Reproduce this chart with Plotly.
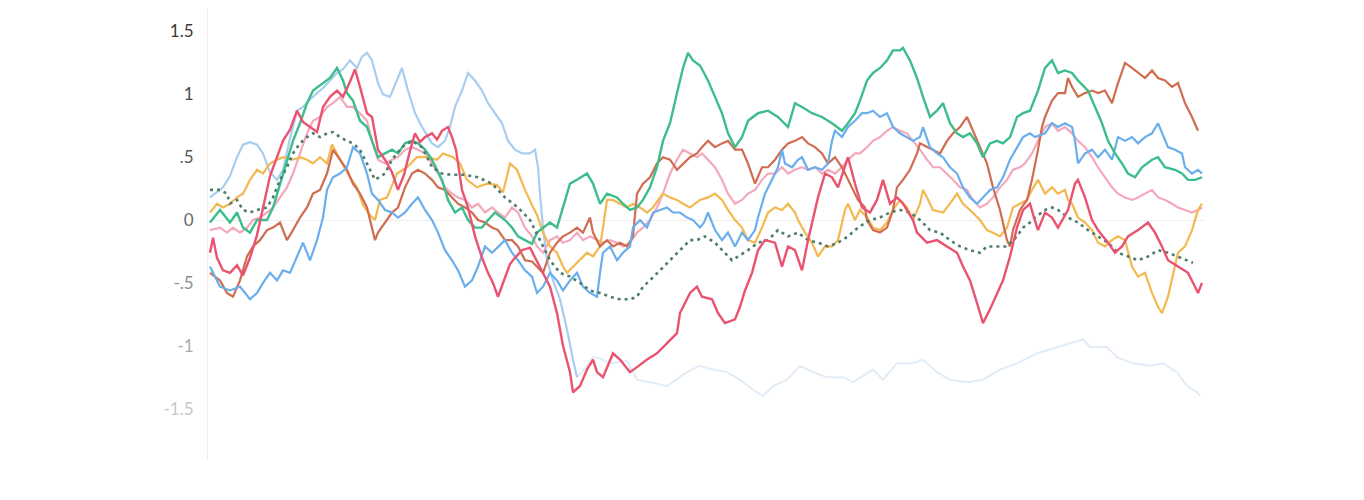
import plotly.graph_objects as go

# ---- data: (step, value) pairs ----
GREEN = [(10,-0.02),(20,0.08),(30,-0.02),(37,0.06),(43,-0.06),(50,-0.1),(57,0),(67,0),(73,0.1),(80,0.29),(87,0.48),(93,0.63),(100,0.77),(107,0.93),(113,1.03),(123,1.09),(130,1.13),(137,1.21),(143,1.11),(147,1.01),(153,0.95),(160,0.79),(167,0.74),(172,0.63),(178,0.5),(185,0.53),(192,0.56),(198,0.53),(205,0.61),(212,0.63),(218,0.61),(225,0.56),(232,0.48),(242,0.32),(248,0.16),(255,0.06),(262,0.1),(268,0),(275,-0.06),(282,-0.06),(288,0),(295,0.06),(305,0),(312,-0.06),(318,-0.13),(325,-0.16),(332,-0.19),(337,-0.1),(343,-0.06),(350,-0.02),(357,-0.06),(363,0.1),(370,0.29),(377,0.32),(387,0.37),(393,0.29),(400,0.13),(407,0.21),(417,0.18),(423,0.13),(430,0.08),(437,0.1),(443,0.16),(450,0.26),(457,0.42),(463,0.63),(470,0.77),(477,1.01),(483,1.21),(488,1.33),(493,1.27),(500,1.23),(508,1.11),(515,0.98),(522,0.85),(528,0.69),(535,0.58),(542,0.66),(548,0.79),(558,0.85),(568,0.87),(578,0.82),(588,0.74),(595,0.93),(602,0.9),(612,0.85),(622,0.82),(632,0.77),(642,0.71),(648,0.77),(655,0.85),(660,0.95),(667,1.11),(673,1.17),(680,1.21),(687,1.27),(693,1.35),(700,1.35),(703,1.37),(710,1.27),(717,1.13),(723,0.98),(730,0.82),(737,0.87),(743,0.93),(750,0.77),(757,0.69),(763,0.66),(770,0.69),(777,0.61),(783,0.5),(790,0.61),(797,0.63),(803,0.61),(810,0.66),(817,0.82),(823,0.85),(830,0.87),(838,1.03),(845,1.21),(852,1.27),(858,1.17),(865,1.19),(872,1.17),(878,1.11),(888,1.03),(895,0.9),(902,0.77),(908,0.63),(915,0.53),(922,0.45),(928,0.37),(935,0.34),(942,0.42),(952,0.48),(958,0.5),(965,0.42),(975,0.4),(982,0.37),(988,0.32),(995,0.32),(1002,0.34)]

RED = [(10,-0.26),(13,-0.14),(17,-0.3),(23,-0.4),(30,-0.42),(37,-0.36),(43,-0.44),(50,-0.3),(57,-0.12),(63,0.1),(70,0.35),(77,0.5),(83,0.63),(90,0.72),(97,0.87),(103,0.78),(110,0.74),(117,0.7),(123,0.9),(130,0.98),(137,1.03),(143,0.98),(150,1.1),(155,1.2),(160,1.06),(167,0.85),(172,0.82),(178,0.56),(185,0.48),(192,0.38),(198,0.24),(204,0.36),(210,0.55),(215,0.69),(220,0.62),(225,0.66),(232,0.69),(237,0.64),(242,0.71),(248,0.74),(252,0.66),(256,0.56),(262,0.24),(268,0.1),(275,-0.13),(282,-0.3),(288,-0.42),(293,-0.5),(298,-0.61),(305,-0.45),(310,-0.35),(315,-0.3),(322,-0.24),(330,-0.22),(340,-0.37),(350,-0.53),(357,-0.74),(363,-1.0),(370,-1.21),(373,-1.37),(380,-1.32),(387,-1.19),(393,-1.11),(397,-1.21),(403,-1.25),(413,-1.06),(420,-1.11),(430,-1.21),(437,-1.17),(447,-1.11),(457,-1.06),(467,-0.98),(477,-0.9),(480,-0.74),(490,-0.58),(497,-0.53),(502,-0.61),(512,-0.63),(518,-0.74),(525,-0.82),(535,-0.79),(540,-0.69),(545,-0.56),(552,-0.42),(558,-0.24),(565,-0.16),(575,-0.18),(582,-0.37),(588,-0.21),(595,-0.24),(602,-0.4),(608,-0.16),(618,0.18),(625,0.37),(632,0.34),(638,0.26),(648,0.5),(655,0.29),(662,0.1),(670,0.06),(677,0.16),(683,0.32),(690,0.13),(697,0.18),(703,0.13),(713,0),(717,-0.1),(727,-0.18),(737,-0.16),(747,-0.21),(757,-0.26),(763,-0.37),(770,-0.48),(777,-0.66),(783,-0.82),(790,-0.71),(797,-0.58),(803,-0.48),(810,-0.29),(817,-0.06),(823,0.08),(830,0.13),(834,0.02),(838,-0.08),(845,0.06),(852,0.02),(858,-0.06),(868,0.08),(875,0.29),(878,0.32),(885,0.18),(892,0),(898,-0.08),(908,-0.18),(915,-0.26),(922,-0.21),(928,-0.13),(938,-0.08),(948,-0.02),(955,-0.1),(962,-0.21),(968,-0.32),(978,-0.37),(988,-0.42),(995,-0.53),(998,-0.58),(1002,-0.5)]

BLUE = [(10,-0.37),(20,-0.53),(30,-0.56),(40,-0.53),(50,-0.63),(57,-0.58),(63,-0.5),(70,-0.42),(77,-0.48),(83,-0.4),(90,-0.42),(97,-0.29),(103,-0.18),(110,-0.32),(117,-0.16),(123,0.02),(127,0.24),(133,0.34),(140,0.37),(147,0.42),(153,0.58),(160,0.53),(167,0.37),(172,0.21),(178,0.16),(185,0.08),(192,0.06),(198,0.02),(205,0.06),(212,0.13),(218,0.18),(225,0.08),(232,0),(238,-0.1),(245,-0.24),(252,-0.32),(258,-0.4),(265,-0.53),(272,-0.48),(278,-0.37),(285,-0.21),(292,-0.26),(298,-0.21),(305,-0.16),(312,-0.26),(318,-0.32),(325,-0.4),(332,-0.45),(337,-0.58),(343,-0.53),(350,-0.42),(357,-0.48),(363,-0.56),(370,-0.48),(377,-0.42),(383,-0.53),(390,-0.58),(397,-0.61),(400,-0.42),(403,-0.26),(410,-0.21),(417,-0.32),(423,-0.26),(430,-0.21),(433,-0.06),(440,0),(447,-0.06),(453,0.06),(460,0.08),(467,0.1),(473,0.06),(480,0.06),(487,0.02),(493,0),(500,-0.06),(504,-0.02),(508,0.06),(515,-0.08),(522,-0.16),(528,-0.1),(535,-0.21),(542,-0.1),(548,-0.16),(555,-0.08),(558,0.02),(565,0.21),(572,0.32),(578,0.42),(582,0.56),(585,0.45),(592,0.42),(598,0.48),(602,0.5),(608,0.4),(615,0.42),(622,0.4),(628,0.45),(632,0.63),(635,0.71),(642,0.66),(648,0.74),(655,0.79),(662,0.85),(667,0.85),(673,0.87),(680,0.82),(687,0.85),(693,0.74),(700,0.69),(707,0.66),(713,0.63),(720,0.66),(723,0.74),(730,0.58),(737,0.53),(743,0.5),(750,0.42),(757,0.37),(763,0.26),(770,0.18),(777,0.13),(783,0.18),(790,0.24),(797,0.26),(803,0.34),(810,0.48),(817,0.58),(823,0.66),(830,0.69),(835,0.66),(845,0.69),(852,0.77),(858,0.74),(865,0.77),(872,0.74),(875,0.63),(878,0.45),(885,0.53),(892,0.56),(898,0.5),(905,0.56),(912,0.48),(918,0.66),(925,0.63),(932,0.66),(938,0.61),(945,0.66),(952,0.69),(958,0.77),(962,0.69),(968,0.58),(975,0.56),(982,0.53),(985,0.42),(992,0.37),(998,0.4),(1002,0.37)]

LIGHTBLUE = [(10,0.18),(17,0.22),(23,0.26),(30,0.35),(37,0.5),(43,0.6),(50,0.62),(57,0.6),(63,0.53),(70,0.38),(77,0.32),(83,0.4),(90,0.65),(97,0.87),(103,0.9),(110,0.96),(117,1.01),(123,1.05),(130,1.11),(137,1.17),(143,1.2),(150,1.27),(157,1.21),(162,1.3),(167,1.33),(172,1.27),(178,1.09),(183,1.0),(190,0.98),(198,1.13),(202,1.21),(208,1.03),(215,0.85),(222,0.74),(232,0.61),(238,0.58),(245,0.63),(250,0.74),(255,0.9),(262,1.03),(268,1.17),(275,1.11),(282,1.03),(288,0.93),(295,0.85),(302,0.77),(308,0.63),(315,0.56),(322,0.53),(330,0.53),(335,0.56),(338,0.42),(340,0.21),(343,-0.06),(347,-0.32),(353,-0.48),(360,-0.63),(367,-0.87),(373,-1.11),(377,-1.25)]

FAINT = [(377,-1.25),(385,-1.18),(393,-1.09),(400,-1.1),(410,-1.14),(427,-1.12),(437,-1.27),(450,-1.29),(467,-1.32),(478,-1.26),(487,-1.21),(500,-1.16),(513,-1.19),(527,-1.21),(540,-1.27),(553,-1.35),(563,-1.4),(573,-1.32),(587,-1.27),(600,-1.16),(613,-1.21),(627,-1.25),(643,-1.25),(653,-1.29),(663,-1.24),(673,-1.19),(683,-1.27),(697,-1.14),(713,-1.14),(723,-1.11),(737,-1.21),(750,-1.27),(767,-1.29),(783,-1.27),(800,-1.19),(817,-1.14),(837,-1.06),(857,-1.01),(870,-0.98),(883,-0.95),(890,-1.01),(907,-1.01),(917,-1.09),(933,-1.14),(950,-1.16),(963,-1.14),(977,-1.21),(987,-1.32),(997,-1.37),(1000,-1.4)]

YELLOW = [(10,0.06),(17,0.13),(23,0.1),(30,0.13),(37,0.18),(43,0.21),(50,0.32),(57,0.4),(63,0.37),(70,0.45),(77,0.48),(83,0.5),(93,0.48),(100,0.5),(107,0.48),(113,0.45),(120,0.5),(127,0.45),(132,0.6),(137,0.53),(143,0.45),(150,0.34),(157,0.26),(163,0.12),(170,0.04),(175,0.0),(180,0.16),(187,0.18),(197,0.37),(207,0.42),(217,0.5),(227,0.5),(237,0.48),(243,0.53),(253,0.5),(260,0.45),(267,0.32),(277,0.26),(287,0.29),(297,0.28),(303,0.22),(310,0.45),(317,0.4),(325,0.24),(332,0.12),(337,0.04),(343,-0.1),(350,-0.21),(357,-0.26),(363,-0.37),(367,-0.42),(373,-0.37),(380,-0.32),(387,-0.26),(393,-0.29),(400,-0.21),(403,-0.06),(407,0.16),(413,0.16),(420,0.13),(427,0.1),(433,0.13),(440,0.1),(447,0.06),(453,0.1),(460,0.18),(463,0.21),(470,0.18),(477,0.16),(483,0.13),(490,0.1),(500,0.16),(508,0.18),(515,0.21),(522,0.16),(528,0.08),(535,0),(542,-0.06),(548,-0.16),(555,-0.18),(562,-0.06),(568,0.06),(575,0.1),(582,0.08),(588,0.13),(595,0.06),(598,0),(605,-0.1),(612,-0.18),(618,-0.29),(625,-0.21),(632,-0.21),(638,-0.16),(645,0.08),(648,0.13),(655,0),(660,0.08),(667,0.02),(673,-0.06),(680,-0.08),(687,-0.02),(693,0.08),(700,0.16),(707,0.1),(713,0),(720,0.13),(723,0.24),(727,0.18),(733,0.08),(743,0.06),(750,0.13),(757,0.21),(763,0.13),(770,0.08),(780,0),(787,-0.08),(793,-0.1),(800,-0.13),(807,-0.06),(813,0.1),(820,0.13),(827,0.16),(832,0.24),(838,0.32),(845,0.21),(852,0.26),(858,0.21),(865,0.24),(868,0.16),(872,0.13),(878,0.02),(885,-0.02),(892,-0.08),(898,-0.18),(905,-0.21),(912,-0.16),(918,-0.13),(925,-0.16),(932,-0.37),(938,-0.45),(945,-0.42),(952,-0.58),(958,-0.69),(962,-0.74),(968,-0.61),(975,-0.37),(978,-0.26),(985,-0.21),(992,-0.08),(998,0.08),(1002,0.13)]

BROWN = [(10,-0.42),(20,-0.48),(27,-0.58),(33,-0.61),(40,-0.48),(47,-0.29),(53,-0.21),(60,-0.16),(67,-0.08),(73,-0.06),(80,-0.02),(87,-0.16),(93,-0.08),(100,0.02),(107,0.1),(113,0.21),(120,0.24),(127,0.37),(133,0.56),(140,0.48),(147,0.4),(153,0.29),(160,0.21),(167,0.1),(172,-0.06),(175,-0.16),(178,-0.1),(185,-0.02),(192,0.06),(198,0.1),(205,0.26),(212,0.37),(218,0.4),(225,0.37),(232,0.32),(238,0.26),(245,0.24),(252,0.18),(258,0.13),(265,0.1),(272,0.06),(278,0),(285,-0.02),(292,-0.06),(298,-0.08),(305,-0.16),(312,-0.16),(318,-0.21),(325,-0.32),(332,-0.33),(337,-0.37),(343,-0.42),(350,-0.26),(357,-0.18),(363,-0.13),(370,-0.1),(377,-0.06),(383,-0.1),(390,0.02),(393,-0.1),(400,-0.21),(407,-0.16),(413,-0.21),(420,-0.18),(427,-0.21),(433,-0.13),(437,0.21),(443,0.29),(450,0.34),(457,0.45),(463,0.5),(470,0.48),(477,0.4),(483,0.45),(490,0.5),(497,0.53),(502,0.58),(508,0.63),(515,0.58),(522,0.61),(528,0.63),(535,0.56),(542,0.56),(548,0.45),(555,0.29),(562,0.42),(568,0.42),(575,0.48),(582,0.56),(588,0.61),(595,0.63),(602,0.66),(608,0.61),(615,0.58),(622,0.53),(628,0.45),(635,0.5),(642,0.42),(652,0.26),(658,0.16),(665,0.1),(667,0),(673,-0.08),(680,-0.1),(687,-0.06),(693,0.08),(697,0.26),(703,0.32),(710,0.4),(717,0.53),(720,0.61),(727,0.58),(733,0.56),(740,0.53),(747,0.63),(753,0.69),(760,0.74),(767,0.82),(773,0.71),(780,0.58),(787,0.45),(793,0.26),(800,0.08),(807,-0.16),(810,-0.21),(813,-0.08),(820,0.08),(827,0.16),(832,0.32),(838,0.56),(842,0.74),(845,0.82),(852,0.95),(858,1.01),(865,1.01),(868,1.13),(872,1.06),(878,0.98),(885,1.01),(892,1.03),(898,1.01),(905,1.03),(912,0.93),(918,1.09),(925,1.25),(932,1.21),(938,1.17),(945,1.13),(952,1.19),(958,1.13),(965,1.11),(972,1.06),(978,1.09),(985,0.93),(992,0.82),(995,0.77),(998,0.71)]

PINK = [(10,-0.08),(20,-0.06),(27,-0.1),(33,-0.06),(40,-0.1),(47,-0.06),(53,0),(60,0.02),(67,0.06),(73,0.1),(80,0.18),(87,0.26),(93,0.37),(100,0.53),(107,0.69),(113,0.79),(120,0.82),(127,0.9),(133,0.93),(140,0.98),(147,0.9),(153,0.9),(160,0.85),(167,0.79),(172,0.63),(178,0.48),(185,0.45),(192,0.48),(198,0.5),(205,0.56),(212,0.58),(218,0.56),(225,0.53),(232,0.45),(238,0.37),(245,0.26),(252,0.21),(258,0.18),(265,0.16),(272,0.1),(278,0.13),(285,0.06),(292,0.1),(298,0.06),(305,0.02),(312,0.1),(318,0.06),(325,-0.06),(332,-0.13),(337,-0.21),(343,-0.26),(350,-0.16),(357,-0.13),(363,-0.18),(370,-0.16),(377,-0.1),(383,-0.16),(390,-0.13),(397,-0.16),(403,-0.18),(410,-0.16),(417,-0.18),(423,-0.21),(430,-0.18),(437,-0.1),(443,-0.06),(450,0),(457,0.1),(463,0.21),(470,0.37),(477,0.48),(483,0.56),(490,0.53),(497,0.5),(502,0.53),(508,0.48),(515,0.42),(522,0.32),(528,0.21),(535,0.13),(542,0.16),(548,0.21),(555,0.24),(562,0.32),(568,0.37),(575,0.37),(582,0.42),(588,0.37),(595,0.4),(602,0.42),(608,0.4),(615,0.42),(622,0.37),(628,0.4),(635,0.37),(642,0.42),(648,0.48),(655,0.53),(660,0.53),(667,0.58),(673,0.63),(680,0.66),(687,0.71),(693,0.74),(700,0.71),(707,0.69),(713,0.63),(720,0.56),(727,0.48),(733,0.42),(740,0.42),(747,0.37),(753,0.32),(760,0.26),(767,0.24),(773,0.16),(780,0.1),(787,0.13),(793,0.18),(800,0.26),(807,0.32),(813,0.4),(820,0.42),(825,0.45),(832,0.53),(838,0.63),(845,0.74),(852,0.77),(858,0.71),(865,0.74),(872,0.69),(878,0.63),(885,0.58),(892,0.5),(898,0.42),(905,0.34),(912,0.26),(918,0.21),(925,0.18),(932,0.16),(938,0.18),(945,0.21),(952,0.24),(958,0.18),(965,0.16),(972,0.13),(978,0.1),(985,0.08),(992,0.06),(998,0.08),(1002,0.1)]

DOTTED = [(10,0.24),(20,0.24),(27,0.21),(30,0.13),(37,0.16),(43,0.08),(50,0.06),(57,0.08),(67,0.1),(73,0.18),(80,0.32),(87,0.42),(93,0.53),(100,0.61),(107,0.66),(113,0.69),(120,0.66),(127,0.69),(133,0.7),(140,0.66),(147,0.63),(153,0.61),(160,0.56),(167,0.45),(175,0.32),(185,0.37),(192,0.48),(202,0.58),(212,0.63),(222,0.58),(232,0.42),(242,0.37),(252,0.36),(265,0.36),(278,0.34),(292,0.29),(305,0.18),(318,0.1),(330,0.0),(340,-0.16),(350,-0.32),(360,-0.42),(370,-0.45),(380,-0.5),(390,-0.56),(400,-0.58),(410,-0.61),(420,-0.63),(430,-0.63),(437,-0.61),(443,-0.53),(450,-0.48),(460,-0.4),(470,-0.32),(480,-0.24),(490,-0.16),(497,-0.16),(505,-0.13),(515,-0.18),(525,-0.26),(532,-0.32),(538,-0.29),(548,-0.24),(558,-0.18),(568,-0.16),(578,-0.08),(588,-0.13),(598,-0.1),(608,-0.16),(618,-0.18),(628,-0.21),(638,-0.18),(648,-0.13),(658,-0.06),(670,0),(680,0.02),(690,0.06),(700,0.08),(710,0.06),(720,0),(730,-0.08),(740,-0.1),(750,-0.16),(760,-0.21),(770,-0.24),(780,-0.26),(787,-0.21),(797,-0.21),(807,-0.21),(817,-0.13),(823,-0.06),(830,-0.02),(835,0.02),(845,0.08),(852,0.1),(858,0.08),(868,0.02),(878,-0.02),(888,-0.08),(898,-0.13),(908,-0.18),(918,-0.26),(928,-0.29),(938,-0.32),(948,-0.29),(958,-0.24),(968,-0.26),(978,-0.29),(988,-0.32),(993,-0.34)]

TICK_VALUES = [1.5, 1, 0.5, 0, -0.5, -1, -1.5]
TICK_LABELS = ["1.5", "1", ".5", "0", "-.5", "-1", "-1.5"]
TICK_COLORS = ["#3a3a3a", "#4a4a4a", "#5a5a5a", "#6a6a6a", "#8c8c8c", "#acacac", "#c8c8c8"]

series = [
    ("faint", FAINT, "#e2ecf6", 2, "solid"),
    ("lightblue", LIGHTBLUE, "#a9cdef", 2.2, "solid"),
    ("pink", PINK, "#f4a9bb", 2.2, "solid"),
    ("yellow", YELLOW, "#f3b850", 2.2, "solid"),
    ("brown", BROWN, "#d06c4f", 2.2, "solid"),
    ("blue", BLUE, "#6aaeee", 2.2, "solid"),
    ("green", GREEN, "#3cbd8b", 2.4, "solid"),
    ("dotted", DOTTED, "#4f7d6d", 2.6, "3px,4px"),
    ("red", RED, "#ea5370", 2.4, "solid"),
]

fig = go.Figure()
for name, pts, color, w, dash in series:
    xs = [p[0] for p in pts]
    ys = [p[1] for p in pts]
    fig.add_trace(go.Scatter(x=xs, y=ys, mode="lines", name=name,
                             line=dict(color=color, width=w, dash=dash),
                             hoverinfo="skip"))

ticktext = [f'<span style="color:{c}">{t}</span>' for t, c in zip(TICK_LABELS, TICK_COLORS)]

# the page adds an 8px body margin; plot area spans page y 8..460, x 208..1205
fig.update_layout(
    width=1364, height=500,
    margin=dict(l=200, r=167, t=0, b=48),
    paper_bgcolor="white", plot_bgcolor="white",
    showlegend=False,
    font=dict(family="Lato, 'Open Sans', sans-serif", size=17, color="#555"),
    xaxis=dict(range=[8, 1005], showgrid=False, zeroline=False, showline=False,
               showticklabels=False, ticks=""),
    yaxis=dict(range=[-1.909, 1.687], tickvals=TICK_VALUES, ticktext=ticktext,
               showgrid=False, zeroline=True, zerolinecolor="#efefef", zerolinewidth=1,
               showline=True, linecolor="#ececec", linewidth=1,
               ticks="", ticklabelstandoff=10, automargin=False),
)

fig.write_html("out.html")
